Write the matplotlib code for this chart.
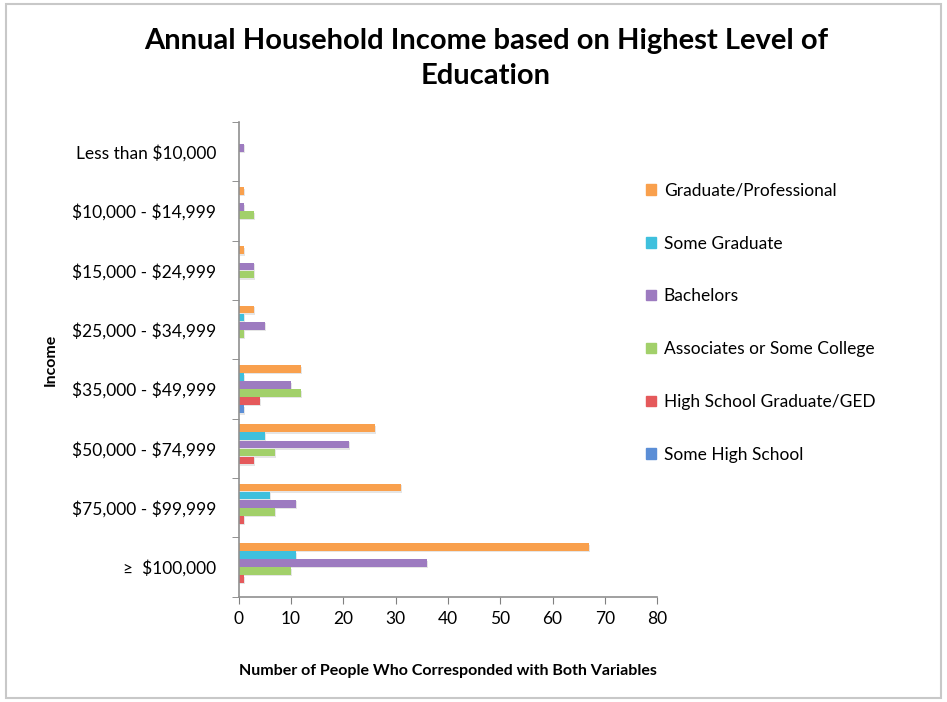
import matplotlib.pyplot as plt
import matplotlib.patches as mpatches
import numpy as np

plt.rcParams['font.family'] = ['Lato', 'DejaVu Sans']
plt.rcParams['text.parse_math'] = False

# income brackets, top to bottom
brackets = ['Less than $10,000', '$10,000 - $14,999', '$15,000 - $24,999',
            '$25,000 - $34,999', '$35,000 - $49,999', '$50,000 - $74,999',
            '$75,000 - $99,999', '\u2265  $100,000']

# counts per education level
grad_prof = [0, 1, 1, 3, 12, 26, 31, 67]
some_grad = [0, 0, 0, 1, 1, 5, 6, 11]
bachelors = [1, 1, 3, 5, 10, 21, 11, 36]
associates = [0, 3, 3, 1, 12, 7, 7, 10]
hs_grad = [0, 0, 0, 0, 4, 3, 1, 1]
some_hs = [0, 0, 0, 0, 1, 0, 0, 0]

series = [
    ('Graduate/Professional', grad_prof, '#F9A04D'),
    ('Some Graduate', some_grad, '#3FC0DD'),
    ('Bachelors', bachelors, '#9D7BC0'),
    ('Associates or Some College', associates, '#A2D06A'),
    ('High School Graduate/GED', hs_grad, '#E5595B'),
    ('Some High School', some_hs, '#5B8ED6'),
]

fig = plt.figure(figsize=(9.47, 7.02), dpi=100)
ax = fig.add_axes([0.252, 0.150, 0.442, 0.676])

n = len(brackets)
y = np.arange(n)
h = 0.136
for k, (name, vals, col) in enumerate(series):
    off = -0.34 + k * h
    # soft drop shadow then the bar
    ax.barh(y + off + 0.025, vals, height=h * 0.95, left=0.2, color='#000000',
            alpha=0.10, zorder=1)
    ax.barh(y + off, vals, height=h * 0.95, color=col, label=name, zorder=2)

ax.set_ylim(n - 0.5, -0.5)
ax.set_xlim(0, 80)
ax.set_xticks(range(0, 81, 10))
ax.set_yticks(y)
ax.set_yticklabels(brackets)
ax.set_yticks(np.arange(-0.5, n, 1), minor=True)
ax.tick_params(axis='y', which='major', length=0, pad=16, labelsize=12.5)
ax.tick_params(axis='y', which='minor', length=5, color='#808080', direction='out')
ax.tick_params(axis='x', length=5, color='#808080', labelsize=12.5, pad=5)

for s in ['top', 'right']:
    ax.spines[s].set_visible(False)
for s in ['left', 'bottom']:
    ax.spines[s].set_color('#909090')
    ax.spines[s].set_linewidth(1.2)

ax.set_xlabel('Number of People Who Corresponded with Both Variables',
              fontsize=11.5, fontweight='bold', labelpad=27)
ax.set_ylabel('Income', fontsize=11.5, fontweight='bold', labelpad=10)

fig.suptitle('Annual Household Income based on Highest Level of\nEducation',
             x=0.513, y=0.96, fontsize=21, fontweight='bold', linespacing=1.42)

handles = [mpatches.Patch(color=c) for _, _, c in series]
fig.legend(handles, [s[0] for s in series], loc='upper left',
           bbox_to_anchor=(0.666, 0.762), frameon=False, fontsize=12.5,
           handlelength=0.55, handleheight=0.55, handletextpad=0.45,
           labelspacing=2.12)

# thin gray border around the chart
fig.add_artist(mpatches.Rectangle((0.006, 0.006), 0.988, 0.988,
                                  transform=fig.transFigure, fill=False,
                                  edgecolor='#C8C8C8', linewidth=1.5))

fig.savefig('out.png', dpi=100)
